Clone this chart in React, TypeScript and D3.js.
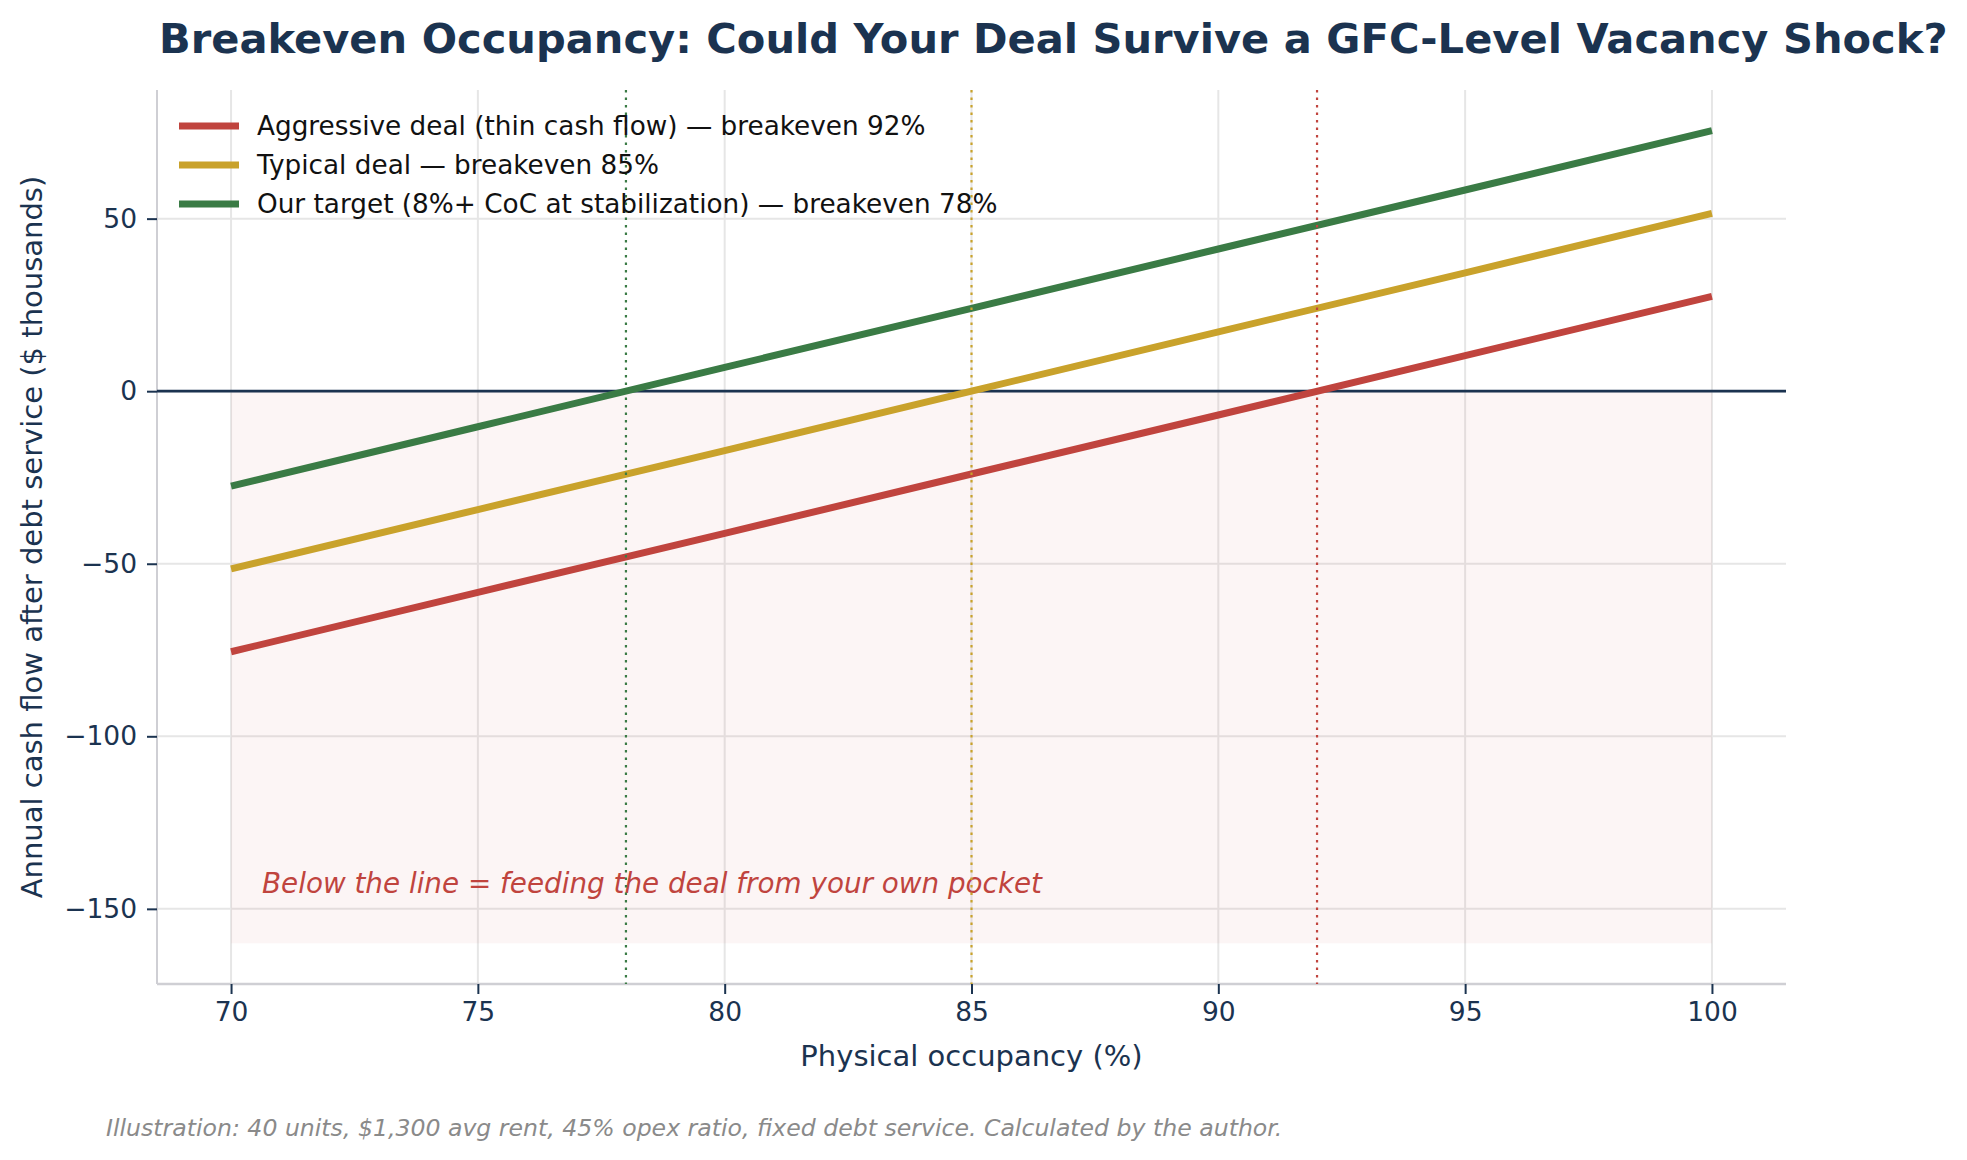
import * as React from "react";
import * as d3 from "d3";

// values (in $ thousands)
const occupancy = [70, 75, 80, 85, 90, 95, 100];
const aggressive = [-75.5, -58.3, -41.2, -24.0, -6.9, 10.3, 27.5];
const typical = [-51.5, -34.3, -17.2, 0, 17.2, 34.3, 51.5];
const target = [-27.5, -10.3, 6.9, 24.0, 41.2, 58.3, 75.5];

const seriesLabels = [
  "Aggressive deal (thin cash flow) — breakeven 92%",
  "Typical deal — breakeven 85%",
  "Our target (8%+ CoC at stabilization) — breakeven 78%",
];
const breakevens = [92, 85, 78];
const seriesColors = ["#c0443e", "#c9a22b", "#3a7b45"];

const xTicks = [70, 75, 80, 85, 90, 95, 100];
const yTicks = [-150, -100, -50, 0, 50];
const lossFloor = -160;

const NAVY = "#1b3350";
const W = 1967;
const H = 1160;

export default function App() {
  const node = React.useRef<SVGSVGElement>(null);

  React.useEffect(() => {
    document.body.style.margin = "0";
    const svg = d3.select(node.current);
    svg.selectAll("*").remove();

    const left = 157, right = 1786, top = 90, bottom = 984;
    const font = "DejaVu Sans, sans-serif";

    const xExt = d3.extent(occupancy) as [number, number];
    const xPad = (xExt[1] - xExt[0]) * 0.05;
    const x = d3.scaleLinear().domain([xExt[0] - xPad, xExt[1] + xPad]).range([left, right]);

    const all = [...aggressive, ...typical, ...target, lossFloor, 0];
    const yMin = d3.min(all) as number, yMax = d3.max(all) as number;
    const yPad = (yMax - yMin) * 0.05;
    const y = d3.scaleLinear().domain([yMin - yPad, yMax + yPad]).range([bottom, top]);

    // title
    svg.append("text")
      .attr("x", left + 2).attr("y", 53)
      .attr("font-family", font).attr("font-weight", "bold")
      .attr("font-size", 41.6).attr("fill", NAVY)
      .text("Breakeven Occupancy: Could Your Deal Survive a GFC-Level Vacancy Shock?");

    // grid
    const g = svg.append("g");
    g.selectAll(".gx").data(xTicks).enter().append("line")
      .attr("x1", d => x(d)).attr("x2", d => x(d))
      .attr("y1", top).attr("y2", bottom)
      .attr("stroke", "#e6e6e6").attr("stroke-width", 2);
    g.selectAll(".gy").data(yTicks).enter().append("line")
      .attr("x1", left).attr("x2", right)
      .attr("y1", d => y(d)).attr("y2", d => y(d))
      .attr("stroke", "#e6e6e6").attr("stroke-width", 2);

    // loss zone
    const area = d3.area<number>()
      .x(d => x(d))
      .y0(y(lossFloor))
      .y1(y(0));
    g.append("path")
      .datum(occupancy)
      .attr("d", area)
      .attr("fill", "#c0443e").attr("fill-opacity", 0.05);

    // annotation
    g.append("text")
      .attr("x", 262).attr("y", 893)
      .attr("font-family", font).attr("font-style", "italic")
      .attr("font-size", 27.8).attr("fill", "#c0443e")
      .text("Below the line = feeding the deal from your own pocket");

    // spines
    g.append("line").attr("x1", left).attr("x2", left).attr("y1", top).attr("y2", bottom)
      .attr("stroke", "#cfcfd4").attr("stroke-width", 2);
    g.append("line").attr("x1", left).attr("x2", right).attr("y1", bottom).attr("y2", bottom)
      .attr("stroke", "#cfcfd4").attr("stroke-width", 2.5);

    // zero line
    g.append("line").attr("x1", left).attr("x2", right).attr("y1", y(0)).attr("y2", y(0))
      .attr("stroke", NAVY).attr("stroke-width", 2.8);

    // series
    const line = d3.line<number>()
      .x((d, i) => x(occupancy[i]))
      .y(d => y(d));
    [aggressive, typical, target].forEach((s, i) => {
      g.append("path")
        .datum(s)
        .attr("d", line)
        .attr("fill", "none")
        .attr("stroke", seriesColors[i])
        .attr("stroke-width", 7);
    });

    // breakeven markers
    breakevens.forEach((b, i) => {
      g.append("line")
        .attr("x1", x(b)).attr("x2", x(b))
        .attr("y1", top).attr("y2", bottom)
        .attr("stroke", seriesColors[i])
        .attr("stroke-width", 2.2)
        .attr("stroke-dasharray", "2.5,5");
    });

    // x axis
    const xa = g.append("g")
      .attr("transform", "translate(0," + bottom + ")")
      .call(d3.axisBottom(x).tickValues(xTicks).tickSize(10).tickPadding(8).tickFormat(d3.format("d")));
    xa.select(".domain").remove();
    xa.selectAll("line").attr("stroke", NAVY).attr("stroke-width", 2);
    xa.selectAll("text").attr("font-family", font).attr("font-size", 26.5).attr("fill", NAVY);

    // y axis
    const ya = g.append("g")
      .attr("transform", "translate(" + left + ",0)")
      .call(d3.axisLeft(y).tickValues(yTicks).tickSize(10).tickPadding(10)
        .tickFormat(d => (d as number) < 0 ? "\u2212" + Math.abs(d as number) : String(d)));
    ya.select(".domain").remove();
    ya.selectAll("line").attr("stroke", NAVY).attr("stroke-width", 2);
    ya.selectAll("text").attr("font-family", font).attr("font-size", 26.5).attr("fill", NAVY);

    // axis labels
    svg.append("text")
      .attr("x", (left + right) / 2).attr("y", 1066)
      .attr("text-anchor", "middle")
      .attr("font-family", font).attr("font-size", 29).attr("fill", NAVY)
      .text("Physical occupancy (%)");
    svg.append("text")
      .attr("transform", "translate(42," + (top + bottom) / 2 + ") rotate(-90)")
      .attr("text-anchor", "middle")
      .attr("font-family", font).attr("font-size", 29).attr("fill", NAVY)
      .text("Annual cash flow after debt service ($ thousands)");

    // legend
    const leg = svg.append("g");
    seriesLabels.forEach((lab, i) => {
      const ly = 126 + i * 39;
      leg.append("line")
        .attr("x1", 179).attr("x2", 239).attr("y1", ly).attr("y2", ly)
        .attr("stroke", seriesColors[i]).attr("stroke-width", 7);
      leg.append("text")
        .attr("x", 257).attr("y", ly + 9)
        .attr("font-family", font).attr("font-size", 26.3).attr("fill", "#111")
        .text(lab);
    });

    // footnote
    svg.append("text")
      .attr("x", 106).attr("y", 1136)
      .attr("font-family", font).attr("font-style", "italic")
      .attr("font-size", 23.6).attr("fill", "#8a8a8a")
      .text("Illustration: 40 units, $1,300 avg rent, 45% opex ratio, fixed debt service. Calculated by the author.");
  }, []);

  return <svg ref={node} width={W} height={H} style={{ display: "block", background: "#fff" }}></svg>;
}
